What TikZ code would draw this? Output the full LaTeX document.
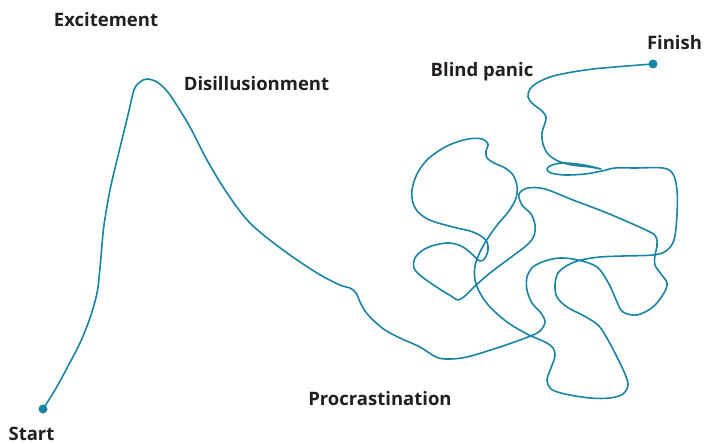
\documentclass[tikz,border=0pt]{standalone}
\usepackage{fontspec}
\setmainfont{Open Sans}
\definecolor{curve}{HTML}{1A84A4}
\definecolor{ink}{HTML}{231F20}
\begin{document}
\begin{tikzpicture}[x=1pt,y=-1pt,
  lab/.style={text=ink,font=\fontsize{18.5}{20}\selectfont\bfseries,inner sep=0pt,anchor=base},
  path/.style={draw=curve,line width=1.6pt,line join=round,line cap=round},
  dot/.style={circle,fill=curve,inner sep=0pt,minimum size=9pt}]
\useasboundingbox (0,0) rectangle (705,444);
\node[dot] (start) at (43,409) {};
\node[dot] (finish) at (653,64) {};
\draw[path] plot[smooth,tension=0.55] coordinates {
 (43,409) (55,390) (67,368) (80,343) (90,318) (97,293) (100,268) (102,245) (104,225) (110,190) (117,160)
 (128,115) (134,90) (140,82) (147,79) (157,82) (167,91) (176,104) (190,127) (207,160) (227,193)
 (250,223) (283,250) (317,273) (340,285) (350,288) (356,293) (360,302) (365,311) (373,320)
 (385,330) (400,338) (420,347) (436,357) (448,359) (467,357) (500,347) (528,337) (540,331)
 (545,322) (541,313) (532,303) (527,290) (527,277) (533,267) (545,261) (560,258) (578,260)
 (597,267) (609,284) (617,302) (623,312) (637,315) (653,307) (664,293) (667,283) (661,274)
 (655,265) (655,255) (657,246) (656,237) (648,231) (607,213) (573,200) (545,189) (528,188)
 (519,194) (522,205) (531,214) (535,225) (534,236) (527,245) (510,258) (490,273) (474,287)
 (465,296) (458,300) (451,296) (435,286) (421,276) (414,268) (415,258) (423,250) (435,245)
 (450,243) (463,247) (473,255) (480,261) (485,258) (488,250) (487,242) (481,236) (470,231)
 (457,228) (432,221) (419,213) (413,203) (412,190) (417,174) (428,159) (447,146) (468,139)
 (482,139) (488,144) (486,151) (487,158) (494,163) (505,168) (513,175) (517,186) (516,198)
 (509,211) (498,224) (488,238) (480,252) (475,266) (475,280) (480,293) (490,307) (507,322)
 (527,334) (545,342) (553,348) (555,356) (551,368) (547,380) (551,389) (565,394) (590,398)
 (610,398) (623,394) (628,385) (625,374) (617,357) (608,340) (599,326) (586,317) (567,307)
 (557,297) (555,285) (558,273) (568,265) (581,260) (600,257) (623,256) (653,255) (666,251)
 (674,240) (677,215) (677,190) (673,174) (663,168) (635,168) (615,168) (602,171) (585,174)
 (565,175) (551,173) (547,169) (552,165) (565,163) (584,165) (601,169) (590,167) (572,165)
 (558,161) (548,154) (543,144) (542,133) (545,123) (546,117) (542,111) (533,104) (528,97)
 (530,89) (537,83) (550,77) (567,73) (593,69) (627,66) (653,64)
};
\node[lab] (exc) at (106,27) {Excitement};
\node[lab] (dis) at (256.5,91) {Disillusionment};
\node[lab] (bp) at (482,77) {Blind panic};
\node[lab] (fin) at (674.5,50) {Finish};
\node[lab] (pro) at (380,405) {Procrastination};
\node[lab] (st) at (31.5,440) {Start};
\end{tikzpicture}
\end{document}
